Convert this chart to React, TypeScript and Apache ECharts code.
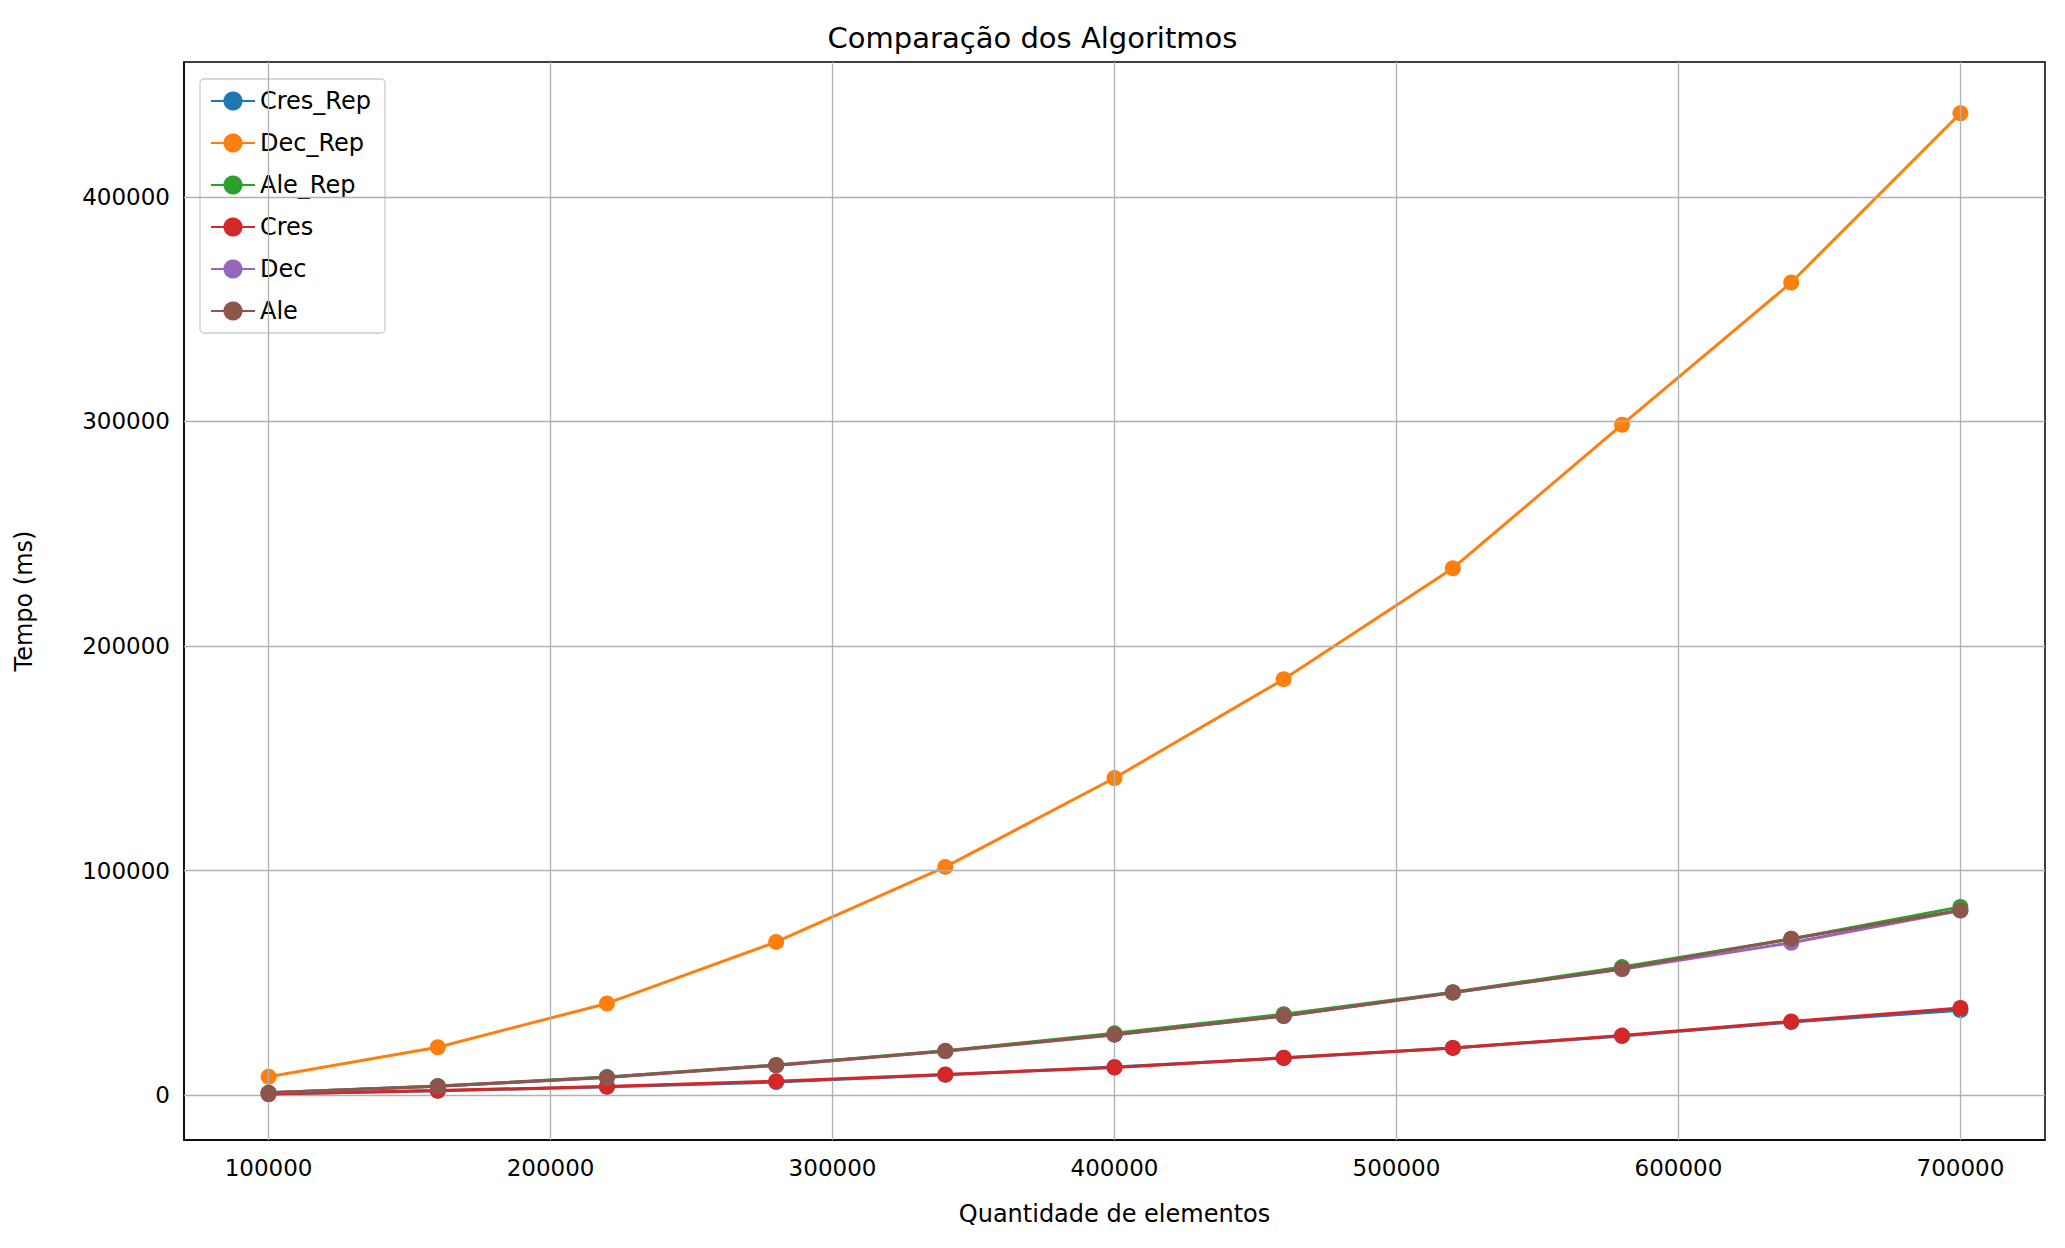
import React, { useEffect, useRef } from 'react';
import * as echarts from 'echarts';

const sizes = [100000, 160000, 220000, 280000, 340000, 400000, 460000, 520000, 580000, 640000, 700000];

const cresRep = [500, 1900, 3700, 5800, 9000, 12500, 16500, 21000, 26300, 32500, 37800];
const decRep = [8200, 21300, 40800, 68200, 101600, 141200, 185200, 234600, 298500, 361800, 437200];
const aleRep = [1000, 4000, 8000, 13400, 19700, 27500, 36000, 45800, 57000, 69500, 83800];
const cres = [500, 2000, 3800, 6200, 9200, 12300, 16600, 21000, 26500, 32800, 38800];
const dec = [1000, 3900, 7800, 13200, 19500, 26800, 35200, 45600, 56000, 67800, 82200];
const ale = [1000, 3900, 7900, 13300, 19600, 27000, 35200, 45700, 56300, 69600, 82300];

const names = ['Cres_Rep', 'Dec_Rep', 'Ale_Rep', 'Cres', 'Dec', 'Ale'];
const values = [cresRep, decRep, aleRep, cres, dec, ale];
const colors = ['#1f77b4', '#ff7f0e', '#2ca02c', '#d62728', '#9467bd', '#8c564b'];

const xGrid = [100000, 200000, 300000, 400000, 500000, 600000, 700000];
const yGrid = [0, 100000, 200000, 300000, 400000];

const font = 'DejaVu Sans';

export default function App() {
  const ref = useRef<HTMLDivElement>(null);

  useEffect(() => {
    document.body.style.margin = '0';
    if (!ref.current) return;
    const chart = echarts.init(ref.current, undefined, { renderer: 'svg' });

    const series: any[] = names.map((name, i) => ({
      name,
      type: 'line',
      data: sizes.map((x, j) => [x, values[i][j]]),
      symbol: 'circle',
      symbolSize: 16,
      lineStyle: { color: colors[i], width: 3 },
      itemStyle: { color: colors[i] },
      z: 3 + i,
    }));
    series.unshift({
      type: 'line',
      data: [],
      silent: true,
      z: 1,
      markLine: {
        silent: true,
        symbol: 'none',
        label: { show: false },
        lineStyle: { color: '#b0b0b0', width: 1.3, type: 'solid' },
        data: [...xGrid.map((x) => ({ xAxis: x })), ...yGrid.map((y) => ({ yAxis: y }))],
      },
    });

    chart.setOption({
      animation: false,
      backgroundColor: '#fff',
      textStyle: { fontFamily: font },
      title: {
        text: 'Comparação dos Algoritmos',
        left: 'center',
        top: 18,
        textStyle: { fontFamily: font, fontSize: 29, fontWeight: 'normal', color: '#000' },
      },
      legend: {
        data: names,
        orient: 'vertical',
        left: 200,
        top: 79,
        itemGap: 18,
        itemWidth: 44,
        itemHeight: 24,
        padding: [10, 14, 10, 10],
        borderColor: '#cccccc',
        borderWidth: 1.3,
        borderRadius: 4,
        backgroundColor: 'rgba(255,255,255,0.8)',
        textStyle: { fontFamily: font, fontSize: 24, color: '#000' },
      },
      grid: {
        left: 184,
        right: 20,
        top: 62,
        bottom: 108,
        show: true,
        borderColor: '#000',
        borderWidth: 1.5,
        backgroundColor: 'transparent',
      },
      xAxis: {
        type: 'value',
        min: 70000,
        max: 730000,
        interval: 10000,
        name: 'Quantidade de elementos',
        nameLocation: 'middle',
        nameGap: 62,
        nameTextStyle: { fontFamily: font, fontSize: 24, color: '#000' },
        axisLine: { show: true, onZero: false, lineStyle: { color: '#000', width: 1.5 } },
        axisTick: { show: false },
        splitLine: { show: false },
        axisLabel: {
          fontFamily: font,
          fontSize: 23,
          color: '#000',
          margin: 16,
          formatter: (v: number) => (v % 100000 === 0 ? String(v) : ''),
        },
      },
      yAxis: {
        type: 'value',
        min: -20000,
        max: 460000,
        interval: 20000,
        name: 'Tempo (ms)',
        nameLocation: 'middle',
        nameGap: 148,
        nameTextStyle: { fontFamily: font, fontSize: 24, color: '#000' },
        axisLine: { show: true, onZero: false, lineStyle: { color: '#000', width: 1.5 } },
        axisTick: { show: false },
        splitLine: { show: false },
        axisLabel: {
          fontFamily: font,
          fontSize: 23,
          color: '#000',
          margin: 14,
          formatter: (v: number) => (v % 100000 === 0 ? String(v) : ''),
        },
      },
      series,
    });

    return () => chart.dispose();
  }, []);

  return <div ref={ref} style={{ width: 2065, height: 1248 }} />;
}
